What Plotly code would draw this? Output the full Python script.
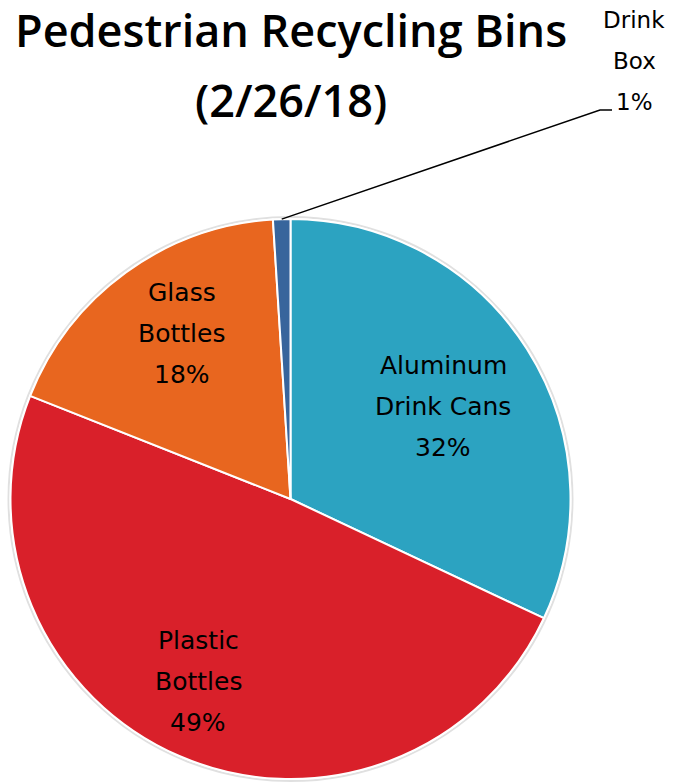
import math
import plotly.graph_objects as go

# ---- data ----
categories = ["Aluminum Drink Cans", "Plastic Bottles", "Glass Bottles", "Drink Box"]
label_lines = [["Aluminum", "Drink Cans"], ["Plastic", "Bottles"], ["Glass", "Bottles"], ["Drink", "Box"]]
percent_values = [32, 49, 18, 1]
slice_colors = ["#2CA3C1", "#D9202A", "#E8661F", "#38659C"]
title_lines = ["Pedestrian Recycling Bins", "(2/26/18)"]

# ---- layout constants (window pixels) ----
W, H = 675, 782
PAGE_OFFSET = 0          # body margin removed via post_script below
CX, CY, R = 290.5, 499.0, 280.0
inside_label_radius = [0.637, 0.729, 0.708]
inside_label_nudge_deg = [1.2, 3.5, 2.8]
LINE_GAP = 41
outside_label_x = 634
outside_label_mid_y = 61
leader_elbow = (600, 110)
leader_end = (612, 110)
title_mid_y = [29, 99]


def paper(x, y):
    return (x - PAGE_OFFSET) / W, 1 - (y - PAGE_OFFSET) / H


def polar(angle_deg, r):
    a = math.radians(angle_deg)
    return CX + r * math.sin(a), CY - r * math.cos(a)


total = sum(percent_values)
mid_angles = []
cum = 0
for v in percent_values:
    mid_angles.append((cum + v / 2) / total * 360)
    cum += v
pct_text = [f"{round(v / total * 100)}%" for v in percent_values]

x0, y1 = paper(CX - R, CY - R)
x1, y0 = paper(CX + R, CY + R)
y0 = max(y0, 0.0)

fig = go.Figure(go.Pie(
    labels=categories,
    values=percent_values,
    sort=False,
    direction="clockwise",
    rotation=0,
    marker=dict(colors=slice_colors, line=dict(color="white", width=2)),
    textinfo="none",
    hoverinfo="label+percent",
    showlegend=False,
    domain=dict(x=[x0, x1], y=[y0, y1]),
))

annotations = []
# inside labels
for i in range(3):
    lx, ly = polar(mid_angles[i] + inside_label_nudge_deg[i], R * inside_label_radius[i])
    px, py = paper(lx, ly)
    lines = label_lines[i] + [pct_text[i]]
    for j, line in enumerate(lines):
        annotations.append(dict(
            x=px, y=py, xref="paper", yref="paper", text=line, showarrow=False,
            xanchor="center", yanchor="middle", yshift=-(j - 1) * LINE_GAP,
            font=dict(family="DejaVu Sans", size=25, color="black"),
        ))

# outside label for the smallest slice
lines = label_lines[3] + [pct_text[3]]
ox, oy = paper(outside_label_x, outside_label_mid_y)
for j, line in enumerate(lines):
    annotations.append(dict(
        x=ox, y=oy, xref="paper", yref="paper", text=line, showarrow=False,
        xanchor="center", yanchor="middle", yshift=-(j - 1) * LINE_GAP,
        font=dict(family="DejaVu Sans", size=23, color="black"),
    ))

# title
for line, ypx in zip(title_lines, title_mid_y):
    tx, ty = paper(CX, ypx)
    annotations.append(dict(
        x=tx, y=ty, xref="paper", yref="paper", text=line, showarrow=False,
        xanchor="center", yanchor="middle",
        font=dict(family="Open Sans", size=45, color="black", weight=600),
    ))

# leader line
tipx, tipy = polar(mid_angles[3], R)
pts = [paper(tipx, tipy), paper(*leader_elbow), paper(*leader_end)]
path = "M {} {} L {} {} L {} {}".format(*[c for p in pts for c in p])

sx0, sy1 = paper(CX - R - 2, CY - R - 2)
sx1, sy0 = paper(CX + R + 2, CY + R + 2)

fig.update_layout(
    width=W, height=H,
    margin=dict(l=0, r=0, t=0, b=0),
    paper_bgcolor="white",
    plot_bgcolor="white",
    annotations=annotations,
    shapes=[
        dict(type="path", path=path, xref="paper", yref="paper",
             line=dict(color="black", width=1.5)),
        dict(type="circle", xref="paper", yref="paper", layer="below",
             x0=sx0, x1=sx1, y0=sy0, y1=sy1,
             line=dict(color="rgba(0,0,0,0.12)", width=2), fillcolor="rgba(0,0,0,0)"),
    ],
)

fig.write_html(
    "out.html",
    config={"displayModeBar": False},
    post_script="document.body.style.margin='0';document.body.style.overflow='hidden';",
)
